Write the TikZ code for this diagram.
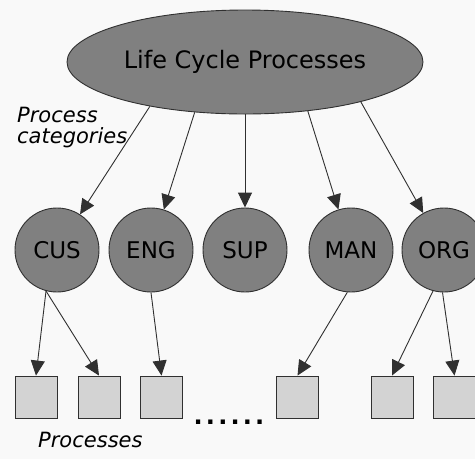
\documentclass[tikz,border=0pt]{standalone}
\usepackage{fontspec}
\setmainfont{DejaVu Sans}
\usetikzlibrary{shapes.geometric,arrows.meta}
\definecolor{bg}{HTML}{F9F9F9}
\definecolor{darkfill}{HTML}{808080}
\definecolor{lightfill}{HTML}{D3D3D3}
\definecolor{edge}{HTML}{303030}
\tikzset{
  lcbox/.style={ellipse, draw=edge, line width=0.9pt, fill=darkfill, minimum width=356pt, minimum height=104pt, inner sep=0pt, font=\fontsize{24}{28}\selectfont},
  catbox/.style={circle, draw=edge, line width=0.9pt, fill=darkfill, minimum size=84pt, inner sep=0pt, font=\fontsize{23}{27}\selectfont},
  procbox/.style={rectangle, draw=edge, line width=0.9pt, fill=lightfill, minimum size=42pt, inner sep=0pt},
  lbl/.style={font=\fontsize{21}{25}\selectfont\itshape, inner sep=0pt},
  arr/.style={draw=edge, line width=0.9pt, -{Triangle[length=15pt,width=14pt]}}
}
\begin{document}
\begin{tikzpicture}[x=1pt,y=-1pt]
\useasboundingbox (0,0) rectangle (475,459);
\clip (0,0) rectangle (475,459);
\fill[bg] (0,0) rectangle (475,459);
\node[lcbox] (lc) at (245,62) {Life Cycle Processes};
\node[catbox] (cus) at (57,250) {CUS};
\node[catbox] (eng) at (151,250) {ENG};
\node[catbox] (sup) at (245,250) {SUP};
\node[catbox] (man) at (351,250) {MAN};
\node[catbox] (org) at (444,250) {ORG};
\node[procbox] (p1) at (36,397) {};
\node[procbox] (p2) at (99,397) {};
\node[procbox] (p3) at (161.5,397) {};
\node[procbox] (p4) at (297.5,397) {};
\node[procbox] (p5) at (392,397) {};
\node[procbox] (p6) at (454.5,397) {};
\node[font=\fontsize{24}{28}\selectfont\bfseries, inner sep=0pt, anchor=base] (dots) at (229,424.5) {.\kern3.2pt.\kern3.2pt.\kern3.2pt.\kern3.2pt.\kern3.2pt.};
\node[lbl, anchor=base west] (pc1) at (17,122) {Process};
\node[lbl, anchor=base west] (pc2) at (17,143.5) {categories};
\node[lbl, anchor=base west] (pr) at (38,447) {Processes};
\draw[arr] (lc.205) -- (cus);
\draw[arr] (lc.225) -- (eng);
\draw[arr] (lc.south) -- (sup);
\draw[arr] (lc.322) -- (man);
\draw[arr] (lc.341) -- (org);
\draw[arr] (cus.255) -- (p1.north);
\draw[arr] (cus.255) -- (p2.north);
\draw[arr] (eng.south) -- (p3.north);
\draw[arr] (man.265) -- (p4.north);
\draw[arr] (org.255) -- (p5.north);
\draw[arr] (org.268) -- (p6.north);
\end{tikzpicture}
\end{document}
